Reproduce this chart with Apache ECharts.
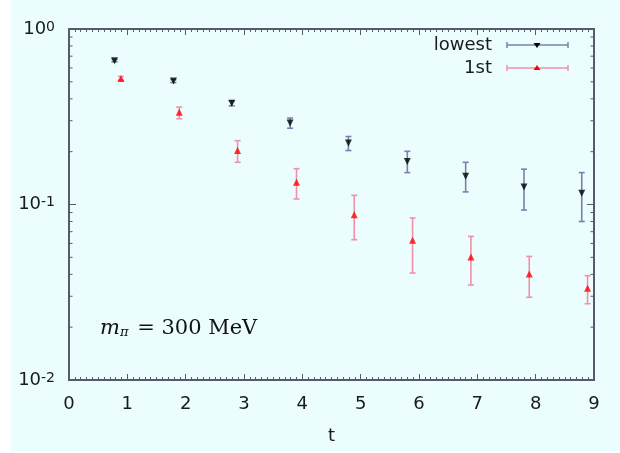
<!DOCTYPE html>
<html>
<head>
<meta charset="utf-8">
<script src="https://cdn.jsdelivr.net/npm/echarts@6/dist/echarts.min.js"></script>
<style>
html, body { margin: 0; padding: 0; background: #fff; }
#main { width: 620px; height: 453px; }
</style>
</head>
<body>
<div id="main"></div>
<script>
// lowest state (black, down triangles)
var tLowest  = [0.78, 1.79, 2.79, 3.79, 4.79, 5.80, 6.80, 7.80, 8.79];
var vLowest  = [0.66, 0.505, 0.377, 0.291, 0.224, 0.176, 0.145, 0.126, 0.116];
var loLowest = [0.65, 0.495, 0.365, 0.272, 0.203, 0.152, 0.118, 0.093, 0.080];
var hiLowest = [0.67, 0.515, 0.390, 0.311, 0.244, 0.201, 0.174, 0.159, 0.152];

// 1st excited (red, up triangles)
var tFirst  = [0.89, 1.89, 2.89, 3.90, 4.89, 5.89, 6.89, 7.89, 8.89];
var vFirst  = [0.523, 0.335, 0.203, 0.134, 0.0875, 0.0625, 0.0502, 0.0402, 0.0333];
var loFirst = [0.510, 0.308, 0.174, 0.1075, 0.063, 0.0407, 0.0348, 0.0296, 0.0272];
var hiFirst = [0.537, 0.359, 0.231, 0.160, 0.1127, 0.0838, 0.0658, 0.0506, 0.0393];

// y ticks (log axis)
var yMajorTicks = [0.01, 0.1, 1];
var yMinorTicks = [0.02, 0.03, 0.04, 0.05, 0.06, 0.07, 0.08, 0.09,
                   0.2, 0.3, 0.4, 0.5, 0.6, 0.7, 0.8, 0.9];

var axisColor = '#555b68';
var bgColor = '#ebfdfd';
var lowColor = '#7484ac';
var firstColor = '#f290aa';
var sans = 'DejaVu Sans';
var serif = 'DejaVu Serif';

function zip3(t, lo, hi) {
    var out = [];
    for (var i = 0; i < t.length; i++) out.push([t[i], lo[i], hi[i]]);
    return out;
}
function zip2(t, v) {
    var out = [];
    for (var i = 0; i < t.length; i++) out.push([t[i], v[i]]);
    return out;
}

// error bars
function errRender(color) {
    return function (params, api) {
        var top = api.coord([api.value(0), api.value(2)]);
        var bot = api.coord([api.value(0), api.value(1)]);
        var w = 3;
        var st = { stroke: color, lineWidth: 1.6 };
        return {
            type: 'group',
            children: [
                { type: 'line', shape: { x1: top[0], y1: top[1], x2: bot[0], y2: bot[1] }, style: st },
                { type: 'line', shape: { x1: top[0] - w, y1: top[1], x2: top[0] + w, y2: top[1] }, style: st },
                { type: 'line', shape: { x1: bot[0] - w, y1: bot[1], x2: bot[0] + w, y2: bot[1] }, style: st }
            ]
        };
    };
}

// y ticks on both sides (gnuplot style, inward)
function tickRender(len) {
    return function (params, api) {
        var l = api.coord([0, api.value(0)]);
        var r = api.coord([9, api.value(0)]);
        var st = { stroke: axisColor, lineWidth: 1 };
        return {
            type: 'group',
            children: [
                { type: 'line', shape: { x1: l[0], y1: l[1], x2: l[0] + len, y2: l[1] }, style: st },
                { type: 'line', shape: { x1: r[0], y1: r[1], x2: r[0] - len, y2: r[1] }, style: st }
            ]
        };
    };
}

var e = echarts.init(document.getElementById('main'));

var xAxisBase = {
    type: 'value',
    min: 0,
    max: 9,
    interval: 1,
    axisLine: { show: false },
    axisTick: { show: true, inside: true, length: 6, lineStyle: { color: axisColor, width: 1 } },
    minorTick: { show: true, splitNumber: 10, length: 3, lineStyle: { color: axisColor, width: 1 } },
    splitLine: { show: false }
};

var option = {
    backgroundColor: '#ffffff',
    animation: false,
    grid: {
        left: 69,
        right: 26,
        top: 29,
        bottom: 73,
        show: true,
        borderColor: axisColor,
        borderWidth: 2,
        backgroundColor: 'transparent'
    },
    graphic: [
        {
            type: 'rect',
            z: -10,
            silent: true,
            shape: { x: 11, y: 0, width: 609, height: 451 },
            style: { fill: bgColor }
        },
        // m_pi label
        {
            type: 'text',
            left: 100,
            top: 314,
            z: 10,
            style: {
                text: '{m|m}{p|π}{r| = 300 MeV}',
                fill: '#111',
                rich: {
                    m: { fontFamily: serif, fontStyle: 'italic', fontSize: 21, lineHeight: 21, verticalAlign: 'top' },
                    p: { fontFamily: serif, fontStyle: 'italic', fontSize: 13, lineHeight: 13, padding: [12, 2, 0, 0], verticalAlign: 'bottom' },
                    r: { fontFamily: serif, fontSize: 21, lineHeight: 21, verticalAlign: 'top' }
                }
            }
        },
        // legend
        {
            type: 'group',
            z: 10,
            children: [
                { type: 'text', style: { text: 'lowest', x: 492, y: 45, align: 'right', verticalAlign: 'middle', fontFamily: sans, fontSize: 18, fill: '#1a1a1a' } },
                { type: 'line', shape: { x1: 507, y1: 45, x2: 568, y2: 45 }, style: { stroke: lowColor, lineWidth: 1.5 } },
                { type: 'line', shape: { x1: 507, y1: 42, x2: 507, y2: 48 }, style: { stroke: lowColor, lineWidth: 1.5 } },
                { type: 'line', shape: { x1: 568, y1: 42, x2: 568, y2: 48 }, style: { stroke: lowColor, lineWidth: 1.5 } },
                { type: 'polygon', shape: { points: [[533.5, 43], [540.5, 43], [537, 48]] }, style: { fill: '#000' } },

                { type: 'text', style: { text: '1st', x: 492, y: 68, align: 'right', verticalAlign: 'middle', fontFamily: sans, fontSize: 18, fill: '#1a1a1a' } },
                { type: 'line', shape: { x1: 507, y1: 68, x2: 568, y2: 68 }, style: { stroke: firstColor, lineWidth: 1.5 } },
                { type: 'line', shape: { x1: 507, y1: 65, x2: 507, y2: 71 }, style: { stroke: firstColor, lineWidth: 1.5 } },
                { type: 'line', shape: { x1: 568, y1: 65, x2: 568, y2: 71 }, style: { stroke: firstColor, lineWidth: 1.5 } },
                { type: 'polygon', shape: { points: [[533.5, 70], [540.5, 70], [537, 65]] }, style: { fill: '#ff0000' } }
            ]
        }
    ],
    xAxis: [
        Object.assign({}, xAxisBase, {
            position: 'bottom',
            name: 't',
            nameLocation: 'middle',
            nameGap: 47,
            nameTextStyle: { fontFamily: sans, fontSize: 18, color: '#1a1a1a' },
            axisLabel: { margin: 15, fontFamily: sans, fontSize: 18, color: '#1a1a1a' }
        }),
        Object.assign({}, xAxisBase, {
            position: 'top',
            axisLabel: { show: false }
        })
    ],
    yAxis: {
        type: 'log',
        logBase: 10,
        min: 0.01,
        max: 1,
        axisLine: { show: false },
        axisTick: { show: false },
        splitLine: { show: false },
        axisLabel: {
            margin: 14,
            formatter: function (v) {
                var p = Math.round(Math.log10(v));
                return '{b|10}{s|' + p + '}';
            },
            rich: {
                b: { fontFamily: sans, fontSize: 18, lineHeight: 18, color: '#1a1a1a', verticalAlign: 'bottom' },
                s: { fontFamily: sans, fontSize: 14, lineHeight: 14, color: '#1a1a1a', padding: [0, 0, 10, 0], verticalAlign: 'top' }
            }
        }
    },
    series: [
        {
            name: 'yMajor',
            type: 'custom',
            silent: true,
            renderItem: tickRender(7),
            data: yMajorTicks.map(function (v) { return [v]; }),
            encode: { y: 0 },
            z: 1
        },
        {
            name: 'yMinor',
            type: 'custom',
            silent: true,
            renderItem: tickRender(3.5),
            data: yMinorTicks.map(function (v) { return [v]; }),
            encode: { y: 0 },
            z: 1
        },
        {
            name: 'lowest err',
            type: 'custom',
            renderItem: errRender(lowColor),
            data: zip3(tLowest, loLowest, hiLowest),
            encode: { x: 0, y: [1, 2] },
            z: 2
        },
        {
            name: '1st err',
            type: 'custom',
            renderItem: errRender(firstColor),
            data: zip3(tFirst, loFirst, hiFirst),
            encode: { x: 0, y: [1, 2] },
            z: 2
        },
        {
            name: 'lowest',
            type: 'scatter',
            symbol: 'triangle',
            symbolRotate: 180,
            symbolSize: 7,
            itemStyle: { color: '#000' },
            data: zip2(tLowest, vLowest),
            z: 3
        },
        {
            name: '1st',
            type: 'scatter',
            symbol: 'triangle',
            symbolSize: 7,
            itemStyle: { color: '#ff0000' },
            data: zip2(tFirst, vFirst),
            z: 3
        }
    ]
};
e.setOption(option);
</script>
</body>
</html>
